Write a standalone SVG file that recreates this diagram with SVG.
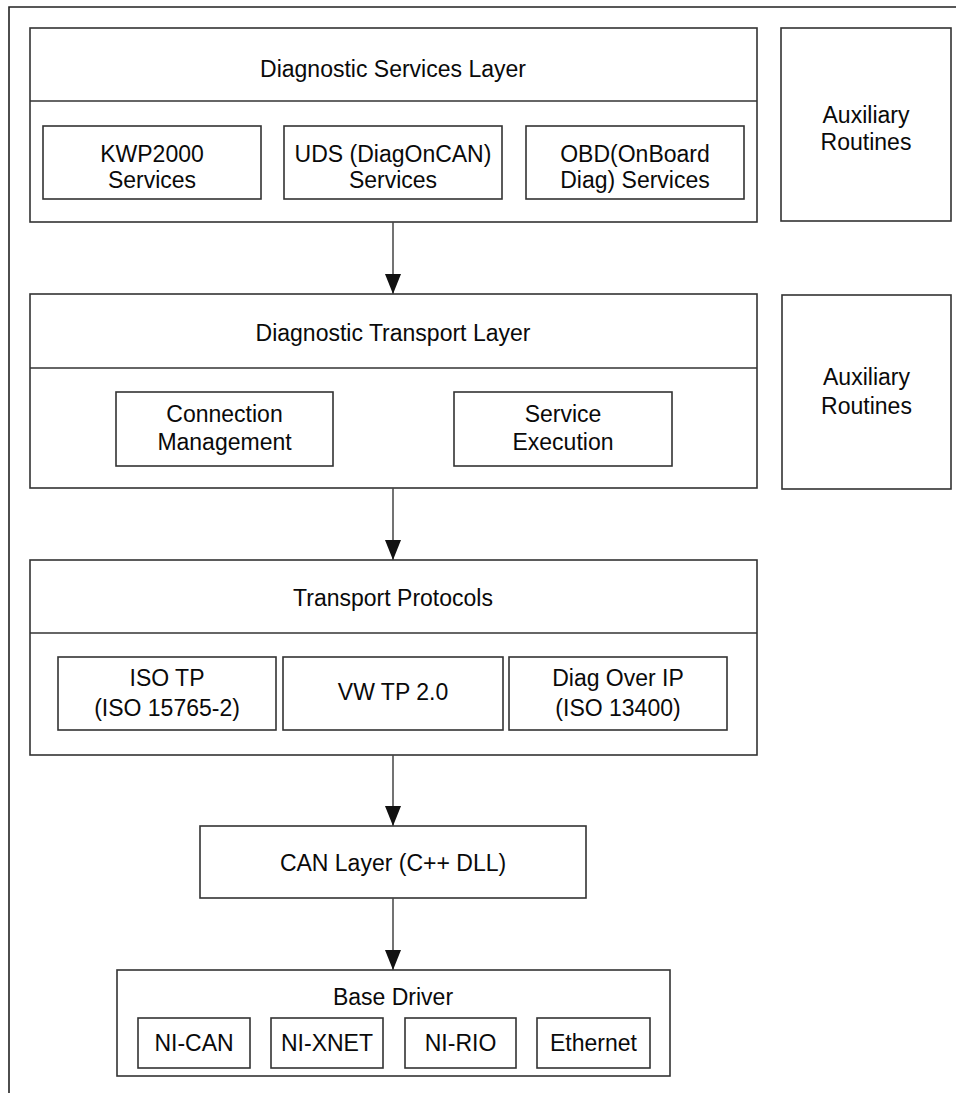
<svg xmlns="http://www.w3.org/2000/svg" width="956" height="1093" viewBox="0 0 956 1093">
<style>
.box{fill:#fff;stroke:#333;stroke-width:1.6}
.div{stroke:#333;stroke-width:1.6}
.t{font-family:"Liberation Sans",Arial,sans-serif;font-size:23px;fill:#0a0a0a;text-anchor:middle}
.c{stroke:#444;stroke-width:1.5;fill:none}
</style>
<defs>
<marker id="ah" markerWidth="20" markerHeight="16" refX="20" refY="8" orient="auto" markerUnits="userSpaceOnUse" viewBox="0 0 20 16">
<path d="M0,0 L20,8 L0,16 Z" fill="#111"/>
</marker>
</defs>
<rect width="956" height="1093" fill="#fff"/>
<path d="M9,1093 V7 H956" fill="none" stroke="#222" stroke-width="1.6"/>

<g id="diag-services-layer">
<rect class="box" x="30" y="28" width="727" height="194"/>
<line class="div" x1="30" y1="101" x2="757" y2="101"/>
<text class="t" x="393" y="77">Diagnostic Services Layer</text>
</g>
<g id="kwp2000">
<rect class="box" x="43" y="126" width="218" height="73"/>
<text class="t" x="152" y="162">KWP2000</text>
<text class="t" x="152" y="188">Services</text>
</g>
<g id="uds">
<rect class="box" x="284" y="126" width="218" height="73"/>
<text class="t" x="393" y="162">UDS (DiagOnCAN)</text>
<text class="t" x="393" y="188">Services</text>
</g>
<g id="obd">
<rect class="box" x="526" y="126" width="218" height="73"/>
<text class="t" x="635" y="162">OBD(OnBoard</text>
<text class="t" x="635" y="188">Diag) Services</text>
</g>
<g id="aux1">
<rect class="box" x="781" y="28" width="170" height="193"/>
<text class="t" x="866" y="123">Auxiliary</text>
<text class="t" x="866" y="150">Routines</text>
</g>

<g id="diag-transport-layer">
<rect class="box" x="30" y="294" width="727" height="194"/>
<line class="div" x1="30" y1="368" x2="757" y2="368"/>
<text class="t" x="393" y="341">Diagnostic Transport Layer</text>
</g>
<g id="conn-mgmt">
<rect class="box" x="116" y="392" width="217" height="74"/>
<text class="t" x="224.5" y="422">Connection</text>
<text class="t" x="224.5" y="450">Management</text>
</g>
<g id="service-exec">
<rect class="box" x="454" y="392" width="218" height="74"/>
<text class="t" x="563" y="422">Service</text>
<text class="t" x="563" y="450">Execution</text>
</g>
<g id="aux2">
<rect class="box" x="782" y="295" width="169" height="194"/>
<text class="t" x="866.5" y="385">Auxiliary</text>
<text class="t" x="866.5" y="414">Routines</text>
</g>

<g id="transport-protocols">
<rect class="box" x="30" y="560" width="727" height="195"/>
<line class="div" x1="30" y1="633" x2="757" y2="633"/>
<text class="t" x="393" y="606">Transport Protocols</text>
</g>
<g id="iso-tp">
<rect class="box" x="58" y="657" width="218" height="73"/>
<text class="t" x="167" y="686">ISO TP</text>
<text class="t" x="167" y="716">(ISO 15765-2)</text>
</g>
<g id="vw-tp">
<rect class="box" x="283" y="657" width="220" height="73"/>
<text class="t" x="393" y="700">VW TP 2.0</text>
</g>
<g id="diag-over-ip">
<rect class="box" x="509" y="657" width="218" height="73"/>
<text class="t" x="618" y="686">Diag Over IP</text>
<text class="t" x="618" y="716">(ISO 13400)</text>
</g>

<g id="can-layer">
<rect class="box" x="200" y="826" width="386" height="72"/>
<text class="t" x="393" y="871">CAN Layer (C++ DLL)</text>
</g>

<g id="base-driver">
<rect class="box" x="117" y="970" width="553" height="106"/>
<text class="t" x="393" y="1005">Base Driver</text>
</g>
<g id="ni-can">
<rect class="box" x="138" y="1018" width="112" height="50"/>
<text class="t" x="194" y="1051">NI-CAN</text>
</g>
<g id="ni-xnet">
<rect class="box" x="271" y="1018" width="112" height="50"/>
<text class="t" x="327" y="1051">NI-XNET</text>
</g>
<g id="ni-rio">
<rect class="box" x="405" y="1018" width="111" height="50"/>
<text class="t" x="460.5" y="1051">NI-RIO</text>
</g>
<g id="ethernet">
<rect class="box" x="537" y="1018" width="113" height="50"/>
<text class="t" x="593.5" y="1051">Ethernet</text>
</g>

<g id="connectors">
<line class="c" x1="393" y1="222" x2="393" y2="294" marker-end="url(#ah)"/>
<line class="c" x1="393" y1="488" x2="393" y2="560" marker-end="url(#ah)"/>
<line class="c" x1="393" y1="755" x2="393" y2="826" marker-end="url(#ah)"/>
<line class="c" x1="393" y1="898" x2="393" y2="970" marker-end="url(#ah)"/>
</g>
</svg>
